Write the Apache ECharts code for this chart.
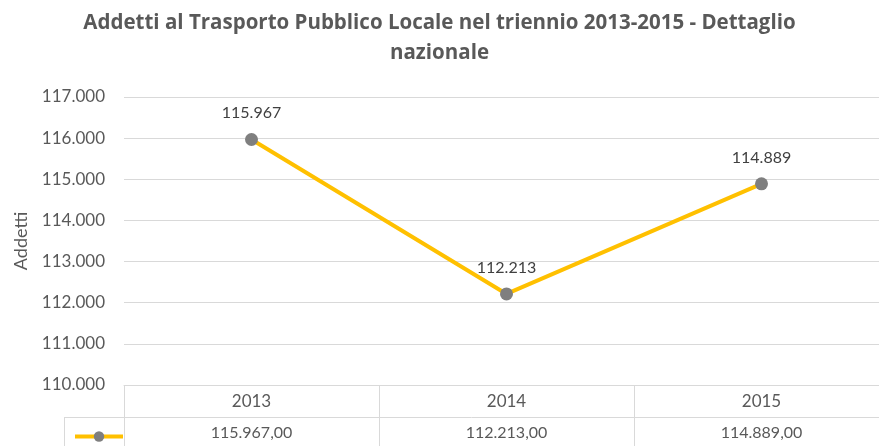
<!DOCTYPE html>
<html>
<head>
<meta charset="utf-8">
<script src="https://cdn.jsdelivr.net/npm/echarts@6/dist/echarts.min.js"></script>
<style>
    html, body { margin: 0; padding: 0; background: #fff; }
    #chart { width: 879px; height: 446px; }
</style>
</head>
<body>
<div id="chart"></div>
<script>
const anni = ['2013', '2014', '2015'];
const addetti = [115967, 112213, 114889];
const yMin = 110000;
const yMax = 117000;
const yStep = 1000;

// formato italiano: 115967 -> 115.967
function migliaia(n) {
    return String(n).replace(/\B(?=(\d{3})+(?!\d))/g, '.');
}

const grigio = '#595959';
const bordo = '#d9d9d9';
const font = 'Lato, "Open Sans", sans-serif';

const chart = echarts.init(document.getElementById('chart'));

const options = {
    animation: false,
    title: {
        text: 'Addetti al Trasporto Pubblico Locale nel triennio 2013-2015 - Dettaglio\nnazionale',
        left: 'center',
        top: 3,
        padding: [5, 5, 5, 19],
        textStyle: {
            color: grigio,
            fontFamily: '"Open Sans", sans-serif',
            fontWeight: 'bold',
            fontSize: 20.5,
            lineHeight: 30
        }
    },
    legend: {
        left: 68,
        top: 425,
        itemWidth: 48,
        itemHeight: 13,
        formatter: () => '',
        textStyle: { fontSize: 1 },
        lineStyle: { width: 4 },
        data: ['Addetti']
    },
    grid: {
        left: 124,
        top: 97,
        width: 765,
        bottom: 61,
        outerBoundsMode: 'none'
    },
    xAxis: {
        type: 'category',
        data: anni,
        boundaryGap: true,
        axisLine: { show: true, lineStyle: { color: bordo, width: 1 } },
        axisTick: {
            show: true,
            interval: 0,
            length: 61,
            lineStyle: { color: bordo }
        },
        axisLabel: {
            interval: 0,
            margin: 1,
            formatter: function (v, i) {
                return '{a|' + v + '}\n{b|' + migliaia(addetti[i]) + ',00}';
            },
            rich: {
                a: { fontFamily: font, fontSize: 17, color: grigio, lineHeight: 31 },
                b: { fontFamily: font, fontSize: 16, color: grigio, lineHeight: 31 }
            }
        }
    },
    yAxis: {
        type: 'value',
        min: yMin,
        max: yMax,
        interval: yStep,
        name: 'Addetti',
        nameLocation: 'middle',
        nameGap: 94,
        nameTextStyle: { color: grigio, fontFamily: font, fontSize: 18 },
        axisLine: { show: false },
        axisTick: { show: false },
        axisLabel: {
            margin: 19,
            color: grigio,
            fontFamily: font,
            fontSize: 17,
            formatter: v => migliaia(v)
        },
        splitLine: { lineStyle: { color: bordo, width: 1 } }
    },
    series: [{
        name: 'Addetti',
        type: 'line',
        data: addetti,
        symbol: 'circle',
        symbolSize: 13,
        lineStyle: { color: '#ffc000', width: 4 },
        itemStyle: { color: '#7f7f7f' },
        label: {
            show: true,
            position: 'top',
            distance: 12,
            color: '#404040',
            fontFamily: font,
            fontSize: 16,
            formatter: p => migliaia(p.value)
        }
    }],
    graphic: [
        {
            type: 'line',
            shape: { x1: 64, y1: 417.5, x2: 879, y2: 417.5 },
            style: { stroke: bordo, lineWidth: 1 }
        },
        {
            type: 'line',
            shape: { x1: 64.5, y1: 417, x2: 64.5, y2: 446 },
            style: { stroke: bordo, lineWidth: 1 }
        }
    ]
};

chart.setOption(options);
</script>
</body>
</html>
